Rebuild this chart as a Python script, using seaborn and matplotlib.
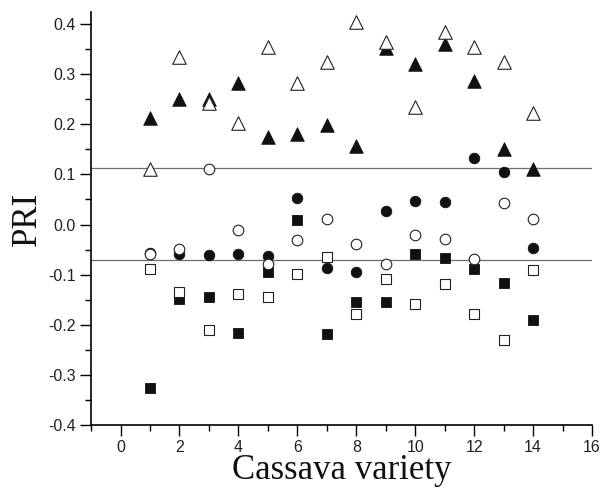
import matplotlib
matplotlib.use("Agg")
import matplotlib.pyplot as plt
from matplotlib.ticker import MultipleLocator
import seaborn as sns

variety = list(range(1, 15))
open_tri = [0.11, 0.333, 0.243, 0.202, 0.353, 0.282, 0.323, 0.403, 0.364, 0.234, 0.384, 0.353, 0.323, 0.222]
filled_tri = [0.213, 0.25, 0.251, 0.282, 0.175, 0.181, 0.199, 0.157, 0.352, 0.319, 0.359, 0.287, 0.15, 0.11]
open_circ = [-0.058, -0.049, 0.11, -0.01, -0.079, -0.03, 0.011, -0.038, -0.079, -0.02, -0.029, -0.069, 0.042, 0.011]
filled_circ = [-0.057, -0.058, -0.061, -0.059, -0.063, 0.053, -0.086, -0.095, 0.027, 0.047, 0.045, 0.133, 0.105, -0.046]
open_sq = [-0.089, -0.135, -0.21, -0.139, -0.145, -0.099, -0.065, -0.179, -0.109, -0.159, -0.119, -0.179, -0.23, -0.09]
filled_sq = [-0.325, -0.148, -0.145, -0.217, -0.095, 0.009, -0.218, -0.155, -0.155, -0.059, -0.067, -0.088, -0.117, -0.19]
ref_lines = [0.112, -0.07]
y_ticks = [-0.4, -0.3, -0.2, -0.1, 0.0, 0.1, 0.2, 0.3, 0.4]
y_labels = ["-0.4", "-0.3", "-0.2", "-0.1", "0.0", "0.1", "0.2", "0.3", "0.4"]

sns.set_theme(style="white")
plt.rcParams['font.family'] = ['Liberation Sans', 'DejaVu Sans']

fig = plt.figure(figsize=(6.11, 4.91), dpi=100)
ax = fig.add_axes([0.149, 0.134, 0.82, 0.842])

for yv in ref_lines:
    ax.axhline(yv, color="#6e6e6e", lw=0.9, zorder=1)

# filled series first, open (white-filled) series on top
for vals, m, sz in [(filled_tri, "^", 95), (filled_circ, "o", 58), (filled_sq, "s", 46)]:
    sns.scatterplot(x=variety, y=vals, marker=m, s=sz, color="#111111",
                    edgecolor="#111111", linewidth=0.6, ax=ax, zorder=3)
for vals, m, sz in [(open_tri, "^", 95), (open_circ, "o", 58), (open_sq, "s", 46)]:
    sns.scatterplot(x=variety, y=vals, marker=m, s=sz, color="white",
                    edgecolor="#222222", linewidth=0.8, ax=ax, zorder=4)

ax.set_xlim(-1, 16)
ax.set_ylim(-0.4, 0.424)
ax.xaxis.set_major_locator(MultipleLocator(2))
ax.xaxis.set_minor_locator(MultipleLocator(1))
ax.set_yticks(y_ticks)
ax.set_yticklabels(y_labels)
ax.yaxis.set_minor_locator(MultipleLocator(0.05))
ax.tick_params(which="major", direction="out", length=8, width=1.0, color="black",
               labelsize=11.5, labelcolor="#222222", left=True, bottom=True)
ax.tick_params(axis="y", which="major", pad=3)
ax.tick_params(axis="x", which="major", pad=3)
ax.tick_params(which="minor", direction="out", length=4.5, width=1.0, color="black",
               left=True, bottom=True)

for s in ["top", "right"]:
    ax.spines[s].set_visible(False)
for s in ["left", "bottom"]:
    ax.spines[s].set_color("black")
    ax.spines[s].set_linewidth(1.2)

ax.set_xlabel("Cassava variety", fontsize=25, family=["Liberation Serif"], color="#111111", labelpad=-1)
ax.set_ylabel("PRI", fontsize=25, family=["Liberation Serif"], color="#111111", labelpad=3)

fig.savefig("out.png", dpi=100)
